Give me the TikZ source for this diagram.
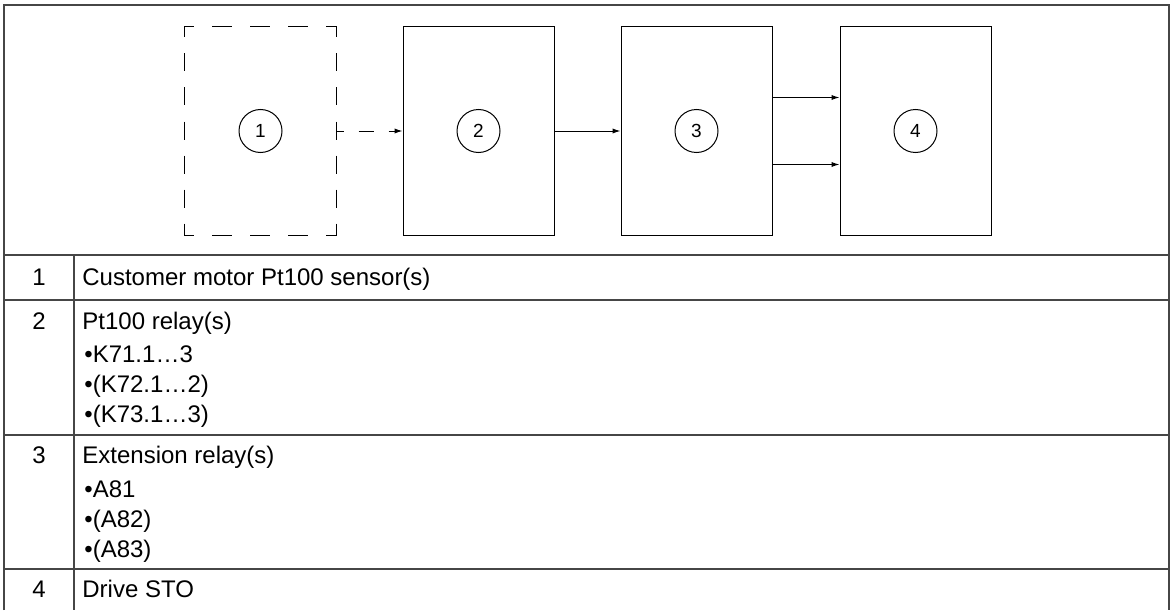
\documentclass[tikz,border=0pt]{standalone}
\usepackage{fontspec}
\setmainfont{Liberation Sans}
\usetikzlibrary{arrows.meta, positioning}
\definecolor{gridgray}{RGB}{70,70,70}

\tikzset{
    unitbox/.style={draw=black, line width=0.5pt, minimum width=75.5pt, minimum height=104pt, inner sep=0pt},
    hdash/.style={line width=0.5pt, dash pattern=on 10pt off 9pt, dash phase=5.25pt},
    vdash/.style={line width=0.5pt, dash pattern=on 9pt off 8pt, dash phase=3.5pt},
    numcircle/.style={draw=black, circle, line width=0.5pt, minimum size=21.5pt, inner sep=0pt, font=\fontsize{9.5}{9.5}\selectfont},
    flow/.style={line width=0.5pt, -{Latex[length=4pt,width=2.6pt]}},
    cell/.style={anchor=base west, inner sep=0pt, font=\fontsize{12}{14}\selectfont},
    rule/.style={gridgray, line width=1pt},
}

\begin{document}
\begin{tikzpicture}[x=0.5pt, y=-0.5pt]
    \useasboundingbox (0,0) rectangle (1171,610);

    % Table frame
    \draw[rule] (4,610) -- (4,5) -- (1169,5) -- (1169,610);
    \foreach \y in {255,300,435,569} {
        \draw[rule] (4,\y) -- (1169,\y);
    }
    \draw[rule] (74,255) -- (74,610);

    % Blocks
    \node[unitbox, draw=none] (b1) at (260.5,131) {};
    \node[unitbox, right=33pt of b1] (b2) {};
    \node[unitbox, right=33pt of b2] (b3) {};
    \node[unitbox, right=33.5pt of b3] (b4) {};

    % Dashed outline of block 1
    \draw[hdash] (b1.north west) -- (b1.north east);
    \draw[hdash] (b1.south west) -- (b1.south east);
    \draw[vdash] (b1.north west) -- (b1.south west);
    \draw[vdash] (b1.north east) -- (b1.south east);

    % Numbers in blocks
    \foreach \i in {1,2,3,4} {
        \node[numcircle] (c\i) at (b\i) {\i};
    }

    % Connectors
    \draw[flow, dash pattern=on 7.5pt off 7.5pt, dash phase=4pt] (b1.east) -- (b2.west);
    \draw[flow] (b2.east) -- (b3.west);
    \draw[flow] ([yshift=16.75pt]b3.east) -- ([yshift=16.75pt]b4.west);
    \draw[flow] ([yshift=-16.75pt]b3.east) -- ([yshift=-16.75pt]b4.west);

    % Row numbers
    \foreach \i/\y in {1/285, 2/329, 3/463, 4/597} {
        \node[cell, anchor=base] (n\i) at (39,\y) {\i};
    }

    % Row texts
    \node[cell] (t1) at (82,285) {Customer motor Pt100 sensor(s)};
    \node[cell] (t2) at (82,329) {Pt100 relay(s)};
    \foreach \txt/\y [count=\i] in {K71.1…3/362, (K72.1…2)/392, (K73.1…3)/422} {
        \node[cell] (k\i) at (84,\y) {•\txt};
    }
    \node[cell] (t3) at (82,463) {Extension relay(s)};
    \foreach \txt/\y [count=\i] in {A81/497, (A82)/527, (A83)/557} {
        \node[cell] (a\i) at (84,\y) {•\txt};
    }
    \node[cell] (t4) at (82,597) {Drive STO};

\end{tikzpicture}
\end{document}
